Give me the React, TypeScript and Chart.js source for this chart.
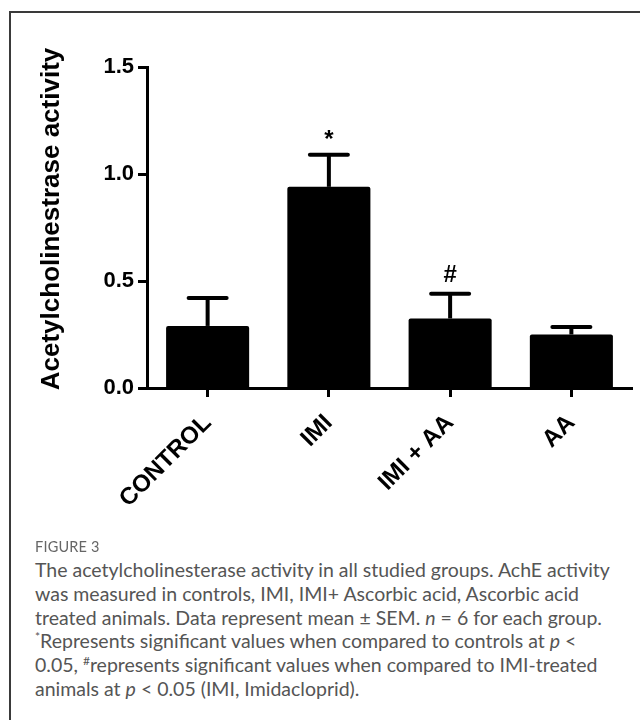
import React, { useEffect, useRef } from "react";
import { Chart, registerables } from "chart.js";

Chart.register(...registerables);

const categories = ["CONTROL", "IMI", "IMI + AA", "AA"];
const meanValues = [0.29, 0.94, 0.325, 0.25];
const semValues = [0.13, 0.15, 0.115, 0.035];
const significance = ["", "*", "#", ""];
const yTicks = [0, 0.5, 1.0, 1.5];
const yTitle = "Acetylcholinestrase activity";

const FONT = "'Liberation Sans', Arial, sans-serif";

const errorBarPlugin = {
  id: "errorBars",
  afterDatasetsDraw(chart: any) {
    const ctx = chart.ctx;
    const meta = chart.getDatasetMeta(0);
    const yScale = chart.scales.y;
    ctx.save();
    ctx.strokeStyle = "#000";
    ctx.fillStyle = "#000";
    meta.data.forEach((bar: any, i: number) => {
      const base = yScale.getPixelForValue(meanValues[i]);
      const top = yScale.getPixelForValue(meanValues[i] + semValues[i]);
      ctx.lineWidth = 4;
      ctx.lineCap = "butt";
      ctx.beginPath();
      ctx.moveTo(bar.x, base);
      ctx.lineTo(bar.x, top);
      ctx.stroke();
      ctx.lineCap = "round";
      ctx.beginPath();
      ctx.moveTo(bar.x - 19, top);
      ctx.lineTo(bar.x + 19, top);
      ctx.stroke();
      if (significance[i]) {
        ctx.font = `bold 24px ${FONT}`;
        ctx.textAlign = "center";
        ctx.textBaseline = "alphabetic";
        const m = ctx.measureText(significance[i]);
        const inkCenter = (m.actualBoundingBoxAscent - m.actualBoundingBoxDescent) / 2;
        ctx.fillText(significance[i], bar.x, top - 20 + inkCenter);
      }
    });
    ctx.restore();
  },
};

const yTitlePlugin = {
  id: "yTitle",
  afterDraw(chart: any) {
    const ctx = chart.ctx;
    ctx.save();
    ctx.translate(52, 219);
    ctx.rotate(-Math.PI / 2);
    ctx.font = `bold 26px ${FONT}`;
    ctx.fillStyle = "#000";
    ctx.textAlign = "center";
    ctx.textBaseline = "middle";
    ctx.fillText(yTitle, 0, 0);
    ctx.restore();
  },
};

function BarChart() {
  const ref = useRef<HTMLCanvasElement | null>(null);
  useEffect(() => {
    if (!ref.current) return;
    const chart = new Chart(ref.current, {
      type: "bar",
      data: {
        labels: categories,
        datasets: [
          {
            data: meanValues,
            backgroundColor: "#000",
            borderRadius: 2,
            barPercentage: 0.685,
            categoryPercentage: 1,
          },
        ],
      },
      options: {
        responsive: false,
        animation: false,
        layout: { padding: { top: 67, right: 8, bottom: 0, left: 0 } },
        plugins: { legend: { display: false }, tooltip: { enabled: false } },
        scales: {
          x: {
            border: { color: "#000", width: 3 },
            grid: {
              drawOnChartArea: false,
              drawTicks: true,
              tickLength: 9,
              tickWidth: 3,
              tickColor: "#000",
              offset: false,
            },
            ticks: {
              color: "#000",
              font: { family: FONT, size: 24, weight: "bold" },
              minRotation: 45,
              maxRotation: 45,
              padding: 12,
              autoSkip: false,
            },
            afterFit(s: any) {
              s.height = 152;
              s.paddingLeft = 0;
              s.paddingRight = 0;
            },
          },
          y: {
            min: 0,
            max: 1.5,
            border: { color: "#000", width: 3 },
            grid: {
              drawOnChartArea: false,
              drawTicks: true,
              tickLength: 9,
              tickWidth: 3,
              tickColor: "#000",
            },
            ticks: {
              color: "#000",
              font: { family: FONT, size: 22, weight: "bold" },
              padding: 4,
              callback: (v: any) => Number(v).toFixed(1),
            },
            afterBuildTicks(s: any) {
              s.ticks = yTicks.map((v) => ({ value: v }));
            },
            title: { display: false },
            afterFit(s: any) {
              s.width = 147;
              s.paddingTop = 0;
              s.paddingBottom = 0;
            },
          },
        },
      },
      plugins: [errorBarPlugin, yTitlePlugin],
    } as any);
    return () => chart.destroy();
  }, []);
  return (
    <canvas
      ref={ref}
      width={640}
      height={540}
      style={{ position: "absolute", left: 0, top: 0, width: 640, height: 540 }}
    />
  );
}

const captionStyle: React.CSSProperties = {
  position: "absolute",
  left: 35,
  top: 558,
  fontFamily: "Lato, 'Open Sans', sans-serif",
  fontSize: 19.5,
  lineHeight: "23.8px",
  color: "#555",
  whiteSpace: "nowrap",
};

const supStyle: React.CSSProperties = { fontSize: 12, lineHeight: 0 };

export default function App() {
  return (
    <div
      style={{
        position: "absolute",
        left: 0,
        top: 0,
        width: 640,
        height: 720,
        overflow: "hidden",
        background: "#fff",
      }}
    >
      <div
        style={{
          position: "absolute",
          left: 9,
          top: 11,
          width: 700,
          height: 800,
          borderLeft: "2px solid #3a3a3a",
          borderTop: "2px solid #3a3a3a",
        }}
      />
      <BarChart />
      <div
        style={{
          position: "absolute",
          left: 35,
          top: 538,
          fontFamily: "Lato, 'Open Sans', sans-serif",
          fontSize: 14.5,
          color: "#666",
          letterSpacing: 0.2,
        }}
      >
        FIGURE 3
      </div>
      <div style={captionStyle}>
        <div>The acetylcholinesterase activity in all studied groups. AchE activity</div>
        <div>was measured in controls, IMI, IMI+ Ascorbic acid, Ascorbic acid</div>
        <div>
          treated animals. Data represent mean ± SEM. <i>n</i> = 6 for each group.
        </div>
        <div>
          <sup style={supStyle}>*</sup>Represents significant values when compared to controls at <i>p</i> &lt;
        </div>
        <div>
          0.05, <sup style={supStyle}>#</sup>represents significant values when compared to IMI-treated
        </div>
        <div>
          animals at <i>p</i> &lt; 0.05 (IMI, Imidacloprid).
        </div>
      </div>
    </div>
  );
}
